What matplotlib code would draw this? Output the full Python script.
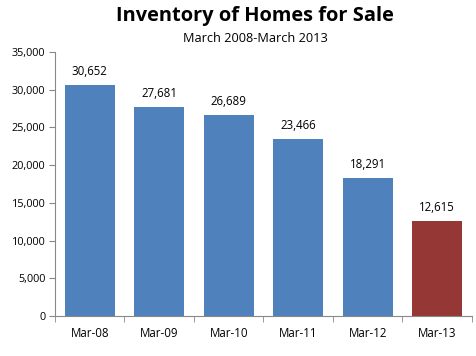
import matplotlib
matplotlib.use("Agg")
import matplotlib.pyplot as plt
from matplotlib.ticker import FuncFormatter, FixedLocator

categories = ["Mar-08", "Mar-09", "Mar-10", "Mar-11", "Mar-12", "Mar-13"]
values = [30652, 27681, 26689, 23466, 18291, 12615]
colors = ["#4F81BD"] * 5 + ["#953735"]

plt.rcParams['font.family'] = ['Open Sans', 'DejaVu Sans']

fig = plt.figure(figsize=(4.77, 3.56), dpi=100)
ax = fig.add_axes([55/477, 1-316/356, (472-55)/477, (316-52)/356])

x = list(range(len(categories)))
bars = ax.bar(x, values, width=0.72, color=colors, zorder=2)
for xi, v in zip(x, values):
    ax.text(xi, v + 900, f"{v:,}", ha="center", va="bottom", fontsize=8.3, color="black")

ax.set_xlim(-0.5, len(categories) - 0.5)
ax.set_ylim(0, 35000)
ax.set_yticks(range(0, 35001, 5000))
ax.yaxis.set_major_formatter(FuncFormatter(lambda v, p: f"{int(v):,}"))
ax.set_xticks(x)
ax.set_xticklabels(categories)
ax.xaxis.set_minor_locator(FixedLocator([i - 0.5 for i in range(len(categories) + 1)]))
ax.tick_params(axis="x", which="major", length=0, pad=8, labelsize=8.3)
ax.tick_params(axis="x", which="minor", length=4, color="#888888")
ax.tick_params(axis="y", length=4, color="#888888", labelsize=7.8, pad=3)

for s in ["top", "right"]:
    ax.spines[s].set_visible(False)
for s in ["left", "bottom"]:
    ax.spines[s].set_color("#888888")
    ax.spines[s].set_linewidth(0.8)

fig.text(255/477, 1-16/356, "Inventory of Homes for Sale", ha="center", va="center",
         fontsize=14.4, fontweight="bold")
fig.text(255/477, 1-39/356, "March 2008-March 2013", ha="center", va="center", fontsize=9.2)

fig.savefig("out.png", dpi=100)
